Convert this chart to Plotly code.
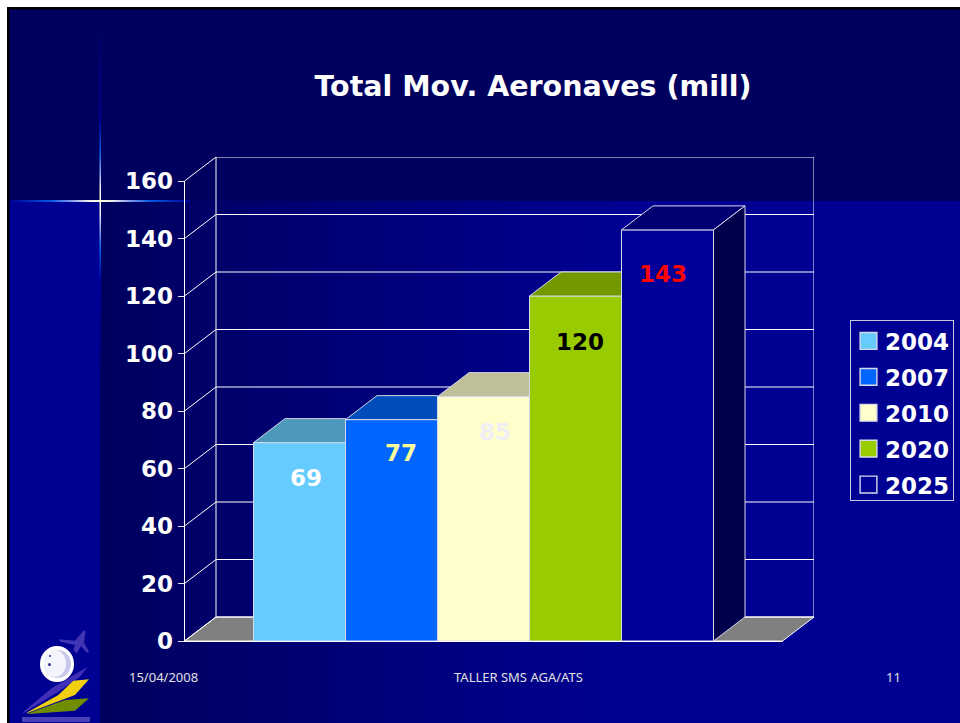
import plotly.graph_objects as go

# ---- data ----
years = ["2004", "2007", "2010", "2020", "2025"]
values = [69, 77, 85, 120, 143]
y_ticks = [0, 20, 40, 60, 80, 100, 120, 140, 160]
title_text = "Total Mov. Aeronaves (mill)"
footer_date = "15/04/2008"
footer_mid = "TALLER SMS AGA/ATS"
footer_page = "11"

# ---- style ----
W, H = 960, 723
front_col = ["#66CCFF", "#0066FF", "#FFFFCC", "#99CC00", "#000099"]
top_col = ["#4D99BB", "#004DBB", "#BFBF99", "#739900", "#000073"]
side_col = "#00004D"
label_col = ["#FFFFFF", "#FFFF99", "#EEEEF4", "#000000", "#FF0000"]
label_dx = [6, 9, 11, 4, -5]      # px offset of value labels from the bar centre
label_dy = [35, 33, 35, 46, 44]   # px below the bar top
edge = "#D8D8EC"
FONT = "DejaVu Sans"

fx0, fx1 = 184.5, 782.5     # front axis pixels
fy0, fy1 = 641.0, 181.0
wx1, wy1 = 814.0, 157.0     # far corner of the back wall
px_per_val = (fy0 - fy1) / 160
dx = (wx1 - fx1) / (fx1 - fx0)   # depth in x data units
dv = (fy1 - wy1) / px_per_val    # depth in value units
gap = 138 / 598
bw = (1 - gap) / len(values)


def px_path(pts):
    return "M" + "L".join(f"{x / W:.5f},{1 - y / H:.5f}" for x, y in pts) + "Z"


def rect(x0, y0, x1, y1, color):
    return dict(type="rect", xref="paper", yref="paper", layer="below",
                x0=x0 / W, x1=x1 / W, y0=1 - y0 / H, y1=1 - y1 / H,
                fillcolor=color, line_width=0)


def poly(pts, color, line=None):
    return dict(type="path", xref="paper", yref="paper", layer="below",
                path=px_path(pts), fillcolor=color,
                line=dict(width=1 if line else 0, color=line or color))


def ellipse(x0, y0, x1, y1, color, line=None, width=0):
    return dict(type="circle", xref="paper", yref="paper", layer="below",
                x0=x0 / W, x1=x1 / W, y0=1 - y1 / H, y1=1 - y0 / H,
                fillcolor=color, line=dict(color=line or color, width=width))


def mix(c0, c1, t):
    return "rgb(" + ",".join(str(round(a + (b - a) * t)) for a, b in zip(c0, c1)) + ")"


def ramp(d, stops):
    for (d0, c0), (d1, c1) in zip(stops, stops[1:]):
        if d <= d1:
            return mix(c0, c1, (d - d0) / (d1 - d0))
    return None


DARK, BLUE = (0, 0, 95), (0, 0, 146)
shapes = []
# slide background
shapes.append(rect(9, 201, 100, H, mix(DARK, BLUE, 1)))
for i in range(0, 520, 10):
    shapes.append(rect(100 + i, 201, 110 + i, H, mix(DARK, BLUE, i / 520)))
shapes.append(rect(620, 201, W, H, mix(DARK, BLUE, 1)))
# sparkle
h_stops = [(0, (255, 255, 224)), (12, (235, 235, 240)), (30, (120, 150, 235)),
           (50, (0, 85, 225)), (90, (0, 0, 150))]
v_stops = [(0, (255, 255, 224)), (15, (230, 230, 240)), (32, (120, 150, 235)),
           (50, (0, 90, 235)), (80, (0, 0, 160)), (165, (0, 0, 110))]
for d in range(0, 90, 2):
    c = ramp(d, h_stops)
    shapes.append(rect(100 + d, 200, 102 + d, 202, c))
    shapes.append(rect(99 - d, 200, 101 - d, 202, c))
for d in range(0, 165, 2):
    c = ramp(d, v_stops)
    shapes.append(rect(99.5, 200 - d, 101, 202 - d, c))
    shapes.append(rect(99.5, 200 + d, 101, 202 + d, c))
# frame
shapes += [rect(0, 0, W, 7, "#FFFFFF"), rect(0, 0, 7, H, "#FFFFFF"),
           rect(7, 7, W, 9.5, "#000000"), rect(7, 7, 9.5, H, "#000000")]


def lg(pts):
    return [(15 + x / 3, 620 + y / 3) for x, y in pts]


# logo
shapes.append(poly(lg([(133, 58), (180, 62), (205, 32), (212, 32), (207, 68), (222, 95), (215, 98),
                       (198, 78), (185, 100), (175, 90), (180, 75), (135, 65)]), "#4034B4"))
shapes.append(ellipse(41, 647, 73, 681, "#FFFFFF", "#FFFFFF", 2))
shapes.append(ellipse(44, 650, 71, 678, "#C8C8EC"))
shapes.append(ellipse(44, 650, 66, 677, "#F4F4FC"))
shapes.append(ellipse(49, 655, 51, 657, "#3030A0"))
shapes.append(ellipse(48, 663, 51, 666, "#3030A0"))
shapes.append(poly(lg([(25, 275), (110, 205), (160, 175), (218, 140), (195, 170), (130, 215), (25, 280)]), "#4030B8"))
shapes.append(poly(lg([(35, 278), (130, 225), (175, 182), (222, 178), (180, 225), (35, 280)]), "#F0D010"))
shapes.append(poly(lg([(40, 280), (150, 240), (222, 235), (180, 272), (40, 282)]), "#708C00"))
shapes.append(rect(22, 717, 90, 722, "#4A40B8"))

fig = go.Figure()


def wall(xs, ys, fill=None, color="#FFFFFF"):
    fig.add_trace(go.Scatter(x=xs, y=ys, xaxis="x", yaxis="y", mode="lines",
                             fill="toself" if fill else None, fillcolor=fill,
                             line=dict(color=color, width=1), cliponaxis=False,
                             showlegend=False, hoverinfo="skip"))


# floor, back wall and left wall share the rear subplot (drawn first)
wall([-0.5, 0.5, 0.5 + dx, -0.5 + dx, -0.5], [0, 0, dv, dv, 0], fill="#808080")
for t in y_ticks:
    wall([-0.5, -0.5 + dx, 0.5 + dx], [t, t + dv, t + dv])
wall([-0.5 + dx, -0.5 + dx], [dv, 160 + dv])
wall([0.5 + dx, 0.5 + dx], [dv, 160 + dv])
wall([-0.5, -0.5], [0, 160])

# front faces
for yr, v, c in zip(years, values, front_col):
    fig.add_trace(go.Bar(x=[0], y=[v], name=yr, legendgroup=yr, xaxis="x2", yaxis="y2",
                         marker=dict(color=c, line=dict(color=edge, width=1))))

# top faces; the part behind the next (taller) bar is left out
n = len(values)
for i, v in enumerate(values):
    xl = -n * bw / 2 + i * bw
    xr = xl + bw
    xs = [xl, xr, xr, xl + dx, xl] if i < n - 1 else [xl, xr, xr + dx, xl + dx, xl]
    ys = [v, v, v + dv, v + dv, v]
    fig.add_trace(go.Scatter(x=xs, y=ys, xaxis="x2", yaxis="y2", mode="lines", fill="toself",
                             fillcolor=top_col[i], line=dict(color=edge, width=1),
                             showlegend=False, hoverinfo="skip"))
# side face of the last bar
xr = n * bw / 2
last = values[-1]
fig.add_trace(go.Scatter(x=[xr, xr + dx, xr + dx, xr, xr], y=[0, dv, last + dv, last, 0],
                         xaxis="x2", yaxis="y2", mode="lines", fill="toself", fillcolor=side_col,
                         line=dict(color=edge, width=1), showlegend=False, hoverinfo="skip"))

annotations = []
for i, (v, c) in enumerate(zip(values, label_col)):
    xc = -n * bw / 2 + (i + 0.5) * bw
    annotations.append(dict(x=xc, y=v, xref="x2", yref="y2", text=str(v), showarrow=False,
                            xshift=label_dx[i], yshift=-label_dy[i],
                            font=dict(family=FONT, size=23, color=c, weight=700)))
foot = dict(family="Noto Sans", size=13, color="#E0E0E0")
for txt, xc in [(footer_date, 163), (footer_mid, 518.5), (footer_page, 893)]:
    annotations.append(dict(x=xc / W, y=1 - 677 / H, xref="paper", yref="paper", text=txt,
                            showarrow=False, xanchor="center", yanchor="middle", font=foot))

fig.update_layout(
    width=W, height=H, margin=dict(l=0, r=0, t=0, b=0, autoexpand=False),
    paper_bgcolor="rgb(0,0,95)", plot_bgcolor="rgba(0,0,0,0)",
    barmode="group", bargap=gap, bargroupgap=0,
    shapes=shapes, annotations=annotations, hovermode=False,
    title=dict(text=title_text, x=533 / W, y=1 - 86 / H, xanchor="center", yanchor="middle",
               font=dict(family=FONT, size=28.5, color="#FFFFFF", weight=700)),
    xaxis=dict(domain=[fx0 / W, wx1 / W], range=[-0.5, 0.5 + dx], anchor="y", visible=False),
    yaxis=dict(domain=[1 - fy0 / H, 1 - wy1 / H], range=[0, 160 + dv], anchor="x", visible=False),
    xaxis2=dict(domain=[fx0 / W, fx1 / W], range=[-0.5, 0.5], anchor="y2", showgrid=False, zeroline=False,
                showticklabels=False, ticks="", showline=True, linecolor="#FFFFFF", linewidth=1),
    yaxis2=dict(domain=[1 - fy0 / H, 1 - fy1 / H], range=[0, 160], anchor="x2", tickvals=y_ticks,
                showgrid=False, zeroline=False, ticks="outside", ticklen=6, tickcolor="#E8E8F0",
                showline=True, linecolor="#FFFFFF", linewidth=1,
                tickfont=dict(family=FONT, size=23, color="#FFFFFF", weight=700)),
    legend=dict(x=850 / W, y=1 - 320 / H, xanchor="left", yanchor="top", bgcolor="rgba(0,0,0,0)",
                bordercolor="#C8C8E0", borderwidth=1, tracegroupgap=3, traceorder="grouped",
                font=dict(family=FONT, size=23, color="#FFFFFF", weight=700)),
)

post = """
document.body.style.margin='0';
document.body.style.overflow='hidden';
var gd=document.getElementById('{plot_id}');
function fixLegend(){
  gd.querySelectorAll('.legend .legendtext').forEach(function(t){t.setAttribute('x','33');});
  gd.querySelectorAll('.legend .legendbar, .legend .legendpoints path').forEach(function(p){
    p.setAttribute('transform','translate(16.5,0) scale(1.4)');
    p.setAttribute('stroke-width','1');});
  gd.querySelectorAll('.legend rect.bg').forEach(function(r){
    r.setAttribute('width','103');r.setAttribute('height','180');});
  gd.querySelectorAll('.legend .scrollbox').forEach(function(s){
    s.setAttribute('transform','translate(1,-1.5)');});
}
fixLegend();
gd.on('plotly_afterplot',fixLegend);
setTimeout(fixLegend,50);
"""
fig.write_html("out.html", post_script=post, config={"displayModeBar": False})
